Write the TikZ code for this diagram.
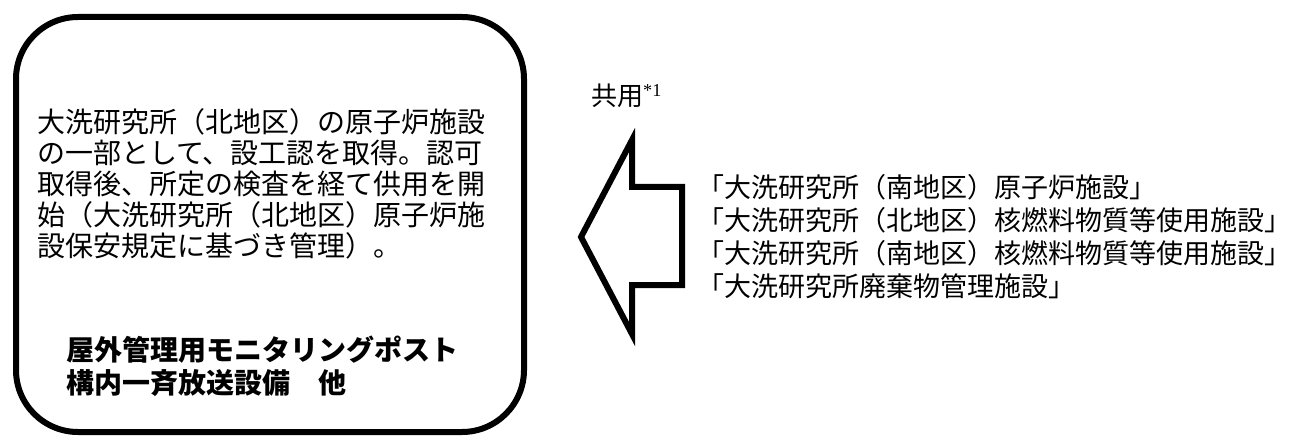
\documentclass[tikz,border=0pt]{standalone}
\usepackage{fontspec}
\setmainfont{Noto Sans CJK JP}
\newfontfamily\notefont{Liberation Serif}
\usepackage{tikz}
\usepackage{xcolor}
\tikzset{
    rounded-frame/.style = {draw=black, fill=white, line width=6pt, rectangle, rounded corners=62pt, inner sep=0pt},
    frame-text/.style = {align=left, inner sep=0pt, anchor=west, font=\fontsize{28}{31}\selectfont},
    frame-title/.style = {align=left, inner sep=0pt, anchor=west, font=\bfseries\fontsize{28}{33}\selectfont},
    share-arrow/.style = {draw=black, fill=white, line width=6pt},
    share-text/.style = {align=left, inner sep=0pt, anchor=west, font=\fontsize{27}{33}\selectfont},
}

\begin{document}
\begin{tikzpicture}[x=1pt, y=-1pt]
\useasboundingbox (0,0) rectangle (1311,438);
\node [rounded-frame, anchor=north west, minimum width=508pt, minimum height=415pt] (frame) at (13,14) {};
\node [frame-text] (permit) at (37,184) {大洗研究所（北地区）の原子炉施設\\の一部として、設工認を取得。認可\\取得後、所定の検査を経て供用を開\\始（大洗研究所（北地区）原子炉施\\設保安規定に基づき管理）。};
\node [frame-title] (equipment) at (66,366) {屋外管理用モニタリングポスト\\構内一斉放送設備　他};
\draw [share-arrow] (581,237) -- (632,140) -- (632,187) -- (682,187) -- (682,285) -- (632,285) -- (632,334) -- cycle;
\node [anchor=west, inner sep=0pt, font=\fontsize{26}{26}\selectfont] (shared) at (591,96) {共用\textsuperscript{\notefont *1}};
\node [share-text] (facilities) at (697,237) {「大洗研究所（南地区）原子炉施設」\\「大洗研究所（北地区）核燃料物質等使用施設」\\「大洗研究所（南地区）核燃料物質等使用施設」\\「大洗研究所廃棄物管理施設」};
\end{tikzpicture}
\end{document}
